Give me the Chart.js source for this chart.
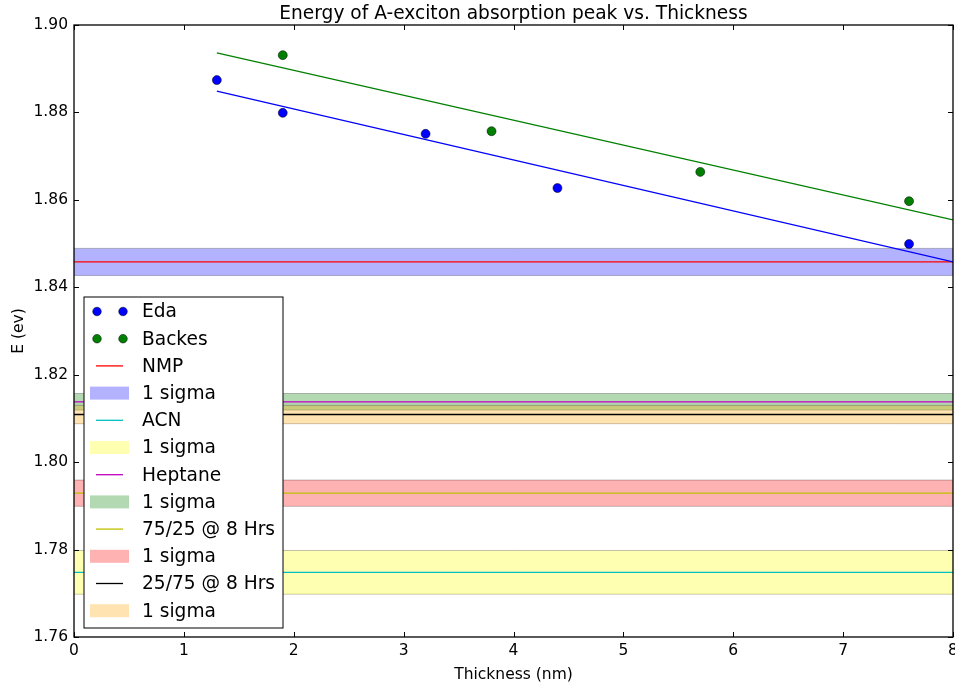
<!DOCTYPE html>
<html lang="en">
<head>
<meta charset="UTF-8">
<title>Energy of A-exciton absorption peak vs. Thickness</title>
<script src="https://cdn.jsdelivr.net/npm/chart.js@4.4.0"></script>
<style>
  html, body { margin: 0; padding: 0; background: #fff; }
  .chart-box { width: 955px; height: 685px; }
</style>
</head>
<body>
<div class="chart-box"><canvas id="excitonChart" width="955" height="685"></canvas></div>
<script>
// measured A-exciton peak energies (eV) vs. flake thickness (nm)
const edaThickness = [1.3, 1.9, 3.2, 4.4, 7.6];
const edaEnergy = [1.8874, 1.8799, 1.8751, 1.8627, 1.8499];
const backesThickness = [1.9, 3.8, 5.7, 7.6];
const backesEnergy = [1.8931, 1.8757, 1.8664, 1.8597];

// linear fits, given by their end points
const fitThickness = [1.3, 8];
const edaFitEnergy = [1.8849, 1.8458];
const backesFitEnergy = [1.8936, 1.8554];

// solvent reference levels: mean and 1 sigma
const solventNames = ['NMP', 'ACN', 'Heptane', '75/25 @ 8 Hrs', '25/75 @ 8 Hrs'];
const solventMean = [1.8458, 1.7748, 1.8138, 1.7929, 1.8109];
const solventSigma = [0.0031, 0.0050, 0.0019, 0.0030, 0.0021];
const lineColors = ['#ff0000', '#00bfbf', '#bf00bf', '#bfbf00', '#000000'];
const bandColors = ['rgba(0,0,255,0.3)', 'rgba(255,255,0,0.3)', 'rgba(0,128,0,0.3)',
                    'rgba(255,0,0,0.3)', 'rgba(255,165,0,0.3)'];

// axes
const xRange = [0, 8];
const yRange = [1.76, 1.90];
const xTickValues = [0, 1, 2, 3, 4, 5, 6, 7, 8];
const yTickValues = [1.76, 1.78, 1.80, 1.82, 1.84, 1.86, 1.88, 1.90];

const chartTitle = 'Energy of A-exciton absorption peak vs. Thickness';
const FONT = '"DejaVu Sans", "Liberation Sans", sans-serif';

const pairs = (xs, ys) => xs.map((x, i) => ({ x: x, y: ys[i] }));
const flat = v => [{ x: xRange[0], y: v }, { x: xRange[1], y: v }];

const datasets = [
  { label: 'Eda', data: pairs(edaThickness, edaEnergy), showLine: false,
    pointRadius: 4.5, pointBackgroundColor: '#0000ff', pointBorderColor: '#000',
    pointBorderWidth: 0.5, order: 0 },
  { label: 'Backes', data: pairs(backesThickness, backesEnergy), showLine: false,
    pointRadius: 4.5, pointBackgroundColor: '#008000', pointBorderColor: '#000',
    pointBorderWidth: 0.5, order: 0 },
  { label: 'Eda fit', data: pairs(fitThickness, edaFitEnergy), borderColor: '#0000ff',
    borderWidth: 1.3, pointRadius: 0, fill: false, order: 1 },
  { label: 'Backes fit', data: pairs(fitThickness, backesFitEnergy), borderColor: '#008000',
    borderWidth: 1.3, pointRadius: 0, fill: false, order: 1 }
];

// mean lines on top of the bands, bands stacked in the order they are listed
solventNames.forEach((name, i) => {
  datasets.push({ label: name, data: flat(solventMean[i]), borderColor: lineColors[i],
    borderWidth: 1.3, pointRadius: 0, fill: false, order: 2 });
});
solventNames.forEach((name, i) => {
  datasets.push({ label: name + ' upper', data: flat(solventMean[i] + solventSigma[i]),
    borderColor: 'rgba(0,0,0,0.25)', borderWidth: 1, backgroundColor: bandColors[i],
    pointRadius: 0, fill: '+1', order: 20 - i });
  datasets.push({ label: name + ' lower', data: flat(solventMean[i] - solventSigma[i]),
    borderColor: 'rgba(0,0,0,0.25)', borderWidth: 1, pointRadius: 0, fill: false,
    order: 20 - i });
});

// legend rows
const legendRows = [
  { text: 'Eda', kind: 'dots', color: '#0000ff' },
  { text: 'Backes', kind: 'dots', color: '#008000' }
];
solventNames.forEach((name, i) => {
  legendRows.push({ text: name, kind: 'line', color: lineColors[i] });
  legendRows.push({ text: '1 sigma', kind: 'patch', color: bandColors[i] });
});

// frame with inward ticks on all four sides
const frameTicks = {
  id: 'frameTicks',
  afterDatasetsDraw(chart) {
    const { ctx, chartArea: a, scales: { x, y } } = chart;
    const len = 5;
    ctx.save();
    ctx.strokeStyle = '#000';
    ctx.lineWidth = 1;
    ctx.beginPath();
    x.ticks.forEach(t => {
      const px = Math.round(x.getPixelForValue(t.value)) + 0.5;
      ctx.moveTo(px, a.bottom); ctx.lineTo(px, a.bottom - len);
      ctx.moveTo(px, a.top); ctx.lineTo(px, a.top + len);
    });
    y.ticks.forEach(t => {
      const py = Math.round(y.getPixelForValue(t.value)) + 0.5;
      ctx.moveTo(a.left, py); ctx.lineTo(a.left + len, py);
      ctx.moveTo(a.right, py); ctx.lineTo(a.right - len, py);
    });
    ctx.stroke();
    ctx.lineWidth = 1.3;
    ctx.strokeRect(a.left, a.top, a.right - a.left, a.bottom - a.top);
    ctx.restore();
  }
};

// title and the boxed legend in the lower left corner
const titleLegend = {
  id: 'titleLegend',
  afterDraw(chart) {
    const { ctx, chartArea: a } = chart;
    ctx.save();
    ctx.fillStyle = '#000';
    ctx.font = '18.6px ' + FONT;
    ctx.textAlign = 'center';
    ctx.textBaseline = 'alphabetic';
    ctx.fillText(chartTitle, (a.left + a.right) / 2, a.top - 6.5);

    const box = { left: a.left + 10, top: a.bottom - 340, width: 199, height: 331 };
    ctx.fillStyle = '#fff';
    ctx.fillRect(box.left, box.top, box.width, box.height);
    ctx.strokeStyle = '#000';
    ctx.lineWidth = 1;
    ctx.strokeRect(box.left, box.top, box.width, box.height);

    const step = 27.2;
    ctx.textAlign = 'left';
    ctx.textBaseline = 'middle';
    legendRows.forEach((row, i) => {
      const cy = box.top + 14.5 + i * step;
      if (row.kind === 'dots') {
        [box.left + 13, box.left + 39].forEach(cx => {
          ctx.beginPath();
          ctx.arc(cx, cy, 4.3, 0, Math.PI * 2);
          ctx.fillStyle = row.color;
          ctx.fill();
          ctx.lineWidth = 0.5;
          ctx.strokeStyle = '#000';
          ctx.stroke();
        });
      } else if (row.kind === 'line') {
        ctx.beginPath();
        ctx.moveTo(box.left + 12, cy);
        ctx.lineTo(box.left + 39, cy);
        ctx.lineWidth = 1.3;
        ctx.strokeStyle = row.color;
        ctx.stroke();
      } else {
        ctx.fillStyle = row.color;
        ctx.fillRect(box.left + 6, cy - 6.5, 39, 13);
      }
      ctx.fillStyle = '#000';
      ctx.font = '18.6px ' + FONT;
      ctx.fillText(row.text, box.left + 58, cy + 1);
    });
    ctx.restore();
  }
};

function initChart() {
  const canvas = document.getElementById('excitonChart');
  new Chart(canvas.getContext('2d'), {
    type: 'line',
    data: { datasets: datasets },
    options: {
      responsive: false,
      animation: false,
      events: [],
      elements: { line: { tension: 0 } },
      layout: { padding: { left: 0, right: 2, top: 25, bottom: 0 }, autoPadding: false },
      plugins: {
        legend: { display: false },
        tooltip: { enabled: false },
        title: { display: false }
      },
      scales: {
        x: {
          type: 'linear', position: 'bottom', min: xRange[0], max: xRange[1],
          grid: { display: false, drawTicks: false }, border: { display: false },
          ticks: { padding: 5, color: '#000', autoSkip: false, maxRotation: 0,
                   font: { family: FONT, size: 15.5 }, callback: v => String(v) },
          title: { display: true, text: 'Thickness (nm)', color: '#000',
                   font: { family: FONT, size: 15.5 }, padding: { top: 0, bottom: 1 } },
          afterBuildTicks: s => { s.ticks = xTickValues.map(v => ({ value: v })); },
          afterFit: s => { s.height = 48; s.paddingLeft = 0; s.paddingRight = 0; }
        },
        y: {
          type: 'linear', position: 'left', min: yRange[0], max: yRange[1],
          grid: { display: false, drawTicks: false }, border: { display: false },
          ticks: { padding: 6, color: '#000', autoSkip: false,
                   font: { family: FONT, size: 15.5 }, callback: v => v.toFixed(2) },
          title: { display: true, text: 'E (ev)', color: '#000',
                   font: { family: FONT, size: 15.5 }, padding: { top: 10, bottom: 0 } },
          afterBuildTicks: s => { s.ticks = yTickValues.map(v => ({ value: v })); },
          afterFit: s => { s.width = 74; s.paddingTop = 0; s.paddingBottom = 0; }
        }
      }
    },
    plugins: [frameTicks, titleLegend]
  });
}

if (document.readyState === 'loading') {
  document.addEventListener('DOMContentLoaded', initChart);
} else {
  initChart();
}
</script>
</body>
</html>
